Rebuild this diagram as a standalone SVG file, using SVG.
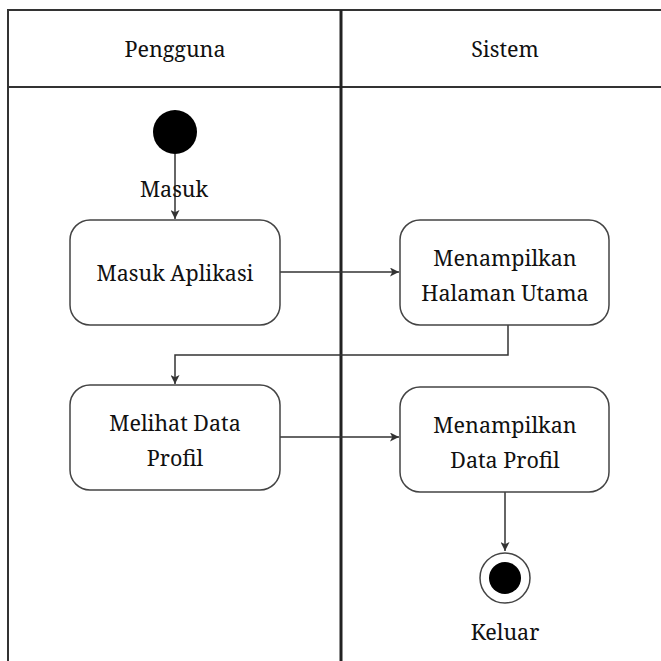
<svg xmlns="http://www.w3.org/2000/svg" width="661" height="661" viewBox="0 0 661 661">
  <style>
    .lane { fill: none; stroke: #333; stroke-width: 2; }
    .divider { fill: none; stroke: #222; stroke-width: 3; }
    .act { fill: #fff; stroke: #444; stroke-width: 1.5; }
    .flow { fill: none; stroke: #333; stroke-width: 1.5; }
    .lbl { font-family: 'Noto Serif', 'DejaVu Serif', serif; font-size: 21.5px; fill: #111; text-anchor: middle; }
  </style>
  <defs>
    <marker id="arrow" viewBox="0 0 10 10" refX="10" refY="5" markerWidth="9" markerHeight="9" markerUnits="userSpaceOnUse" orient="auto">
      <path d="M0,0 L10,5 L0,10 L2.5,5 Z" fill="#333"/>
    </marker>
  </defs>

  <!-- swimlane frame -->
  <g id="lanes">
    <rect x="0" y="0" width="661" height="661" fill="#fff"/>
    <path class="lane" d="M8,661 V10 H661"/>
    <path class="lane" d="M8,87 H661"/>
    <path class="divider" d="M341,10 V661"/>
    <text class="lbl" x="175" y="57">Pengguna</text>
    <text class="lbl" x="505" y="57">Sistem</text>
  </g>

  <!-- connectors -->
  <g id="connectors">
    <path class="flow" d="M175,154 V219" marker-end="url(#arrow)"/>
    <path class="flow" d="M280,272 H399" marker-end="url(#arrow)"/>
    <path class="flow" d="M508,325 V355 H175 V384" marker-end="url(#arrow)"/>
    <path class="flow" d="M280,437 H399" marker-end="url(#arrow)"/>
    <path class="flow" d="M505,492 V551" marker-end="url(#arrow)"/>
  </g>

  <g id="start">
    <circle cx="175" cy="132" r="22" fill="#000"/>
    <text class="lbl" x="174" y="197">Masuk</text>
  </g>

  <g id="masuk-aplikasi">
    <rect class="act" x="70" y="220" width="210" height="105" rx="20"/>
    <text class="lbl" x="175" y="281">Masuk Aplikasi</text>
  </g>

  <g id="halaman-utama">
    <rect class="act" x="400" y="220" width="209" height="105" rx="20"/>
    <text class="lbl" x="505" y="266">Menampilkan</text>
    <text class="lbl" x="505" y="301">Halaman Utama</text>
  </g>

  <g id="melihat-data-profil">
    <rect class="act" x="70" y="385" width="210" height="105" rx="20"/>
    <text class="lbl" x="175" y="431">Melihat Data</text>
    <text class="lbl" x="175" y="466">Profil</text>
  </g>

  <g id="tampil-data-profil">
    <rect class="act" x="400" y="387" width="209" height="105" rx="20"/>
    <text class="lbl" x="505" y="433">Menampilkan</text>
    <text class="lbl" x="505" y="468">Data Profil</text>
  </g>

  <g id="end">
    <circle cx="505" cy="578" r="25" fill="#fff" stroke="#444" stroke-width="1.5"/>
    <circle cx="505" cy="578" r="16" fill="#000"/>
    <text class="lbl" x="505" y="640">Keluar</text>
  </g>
</svg>
